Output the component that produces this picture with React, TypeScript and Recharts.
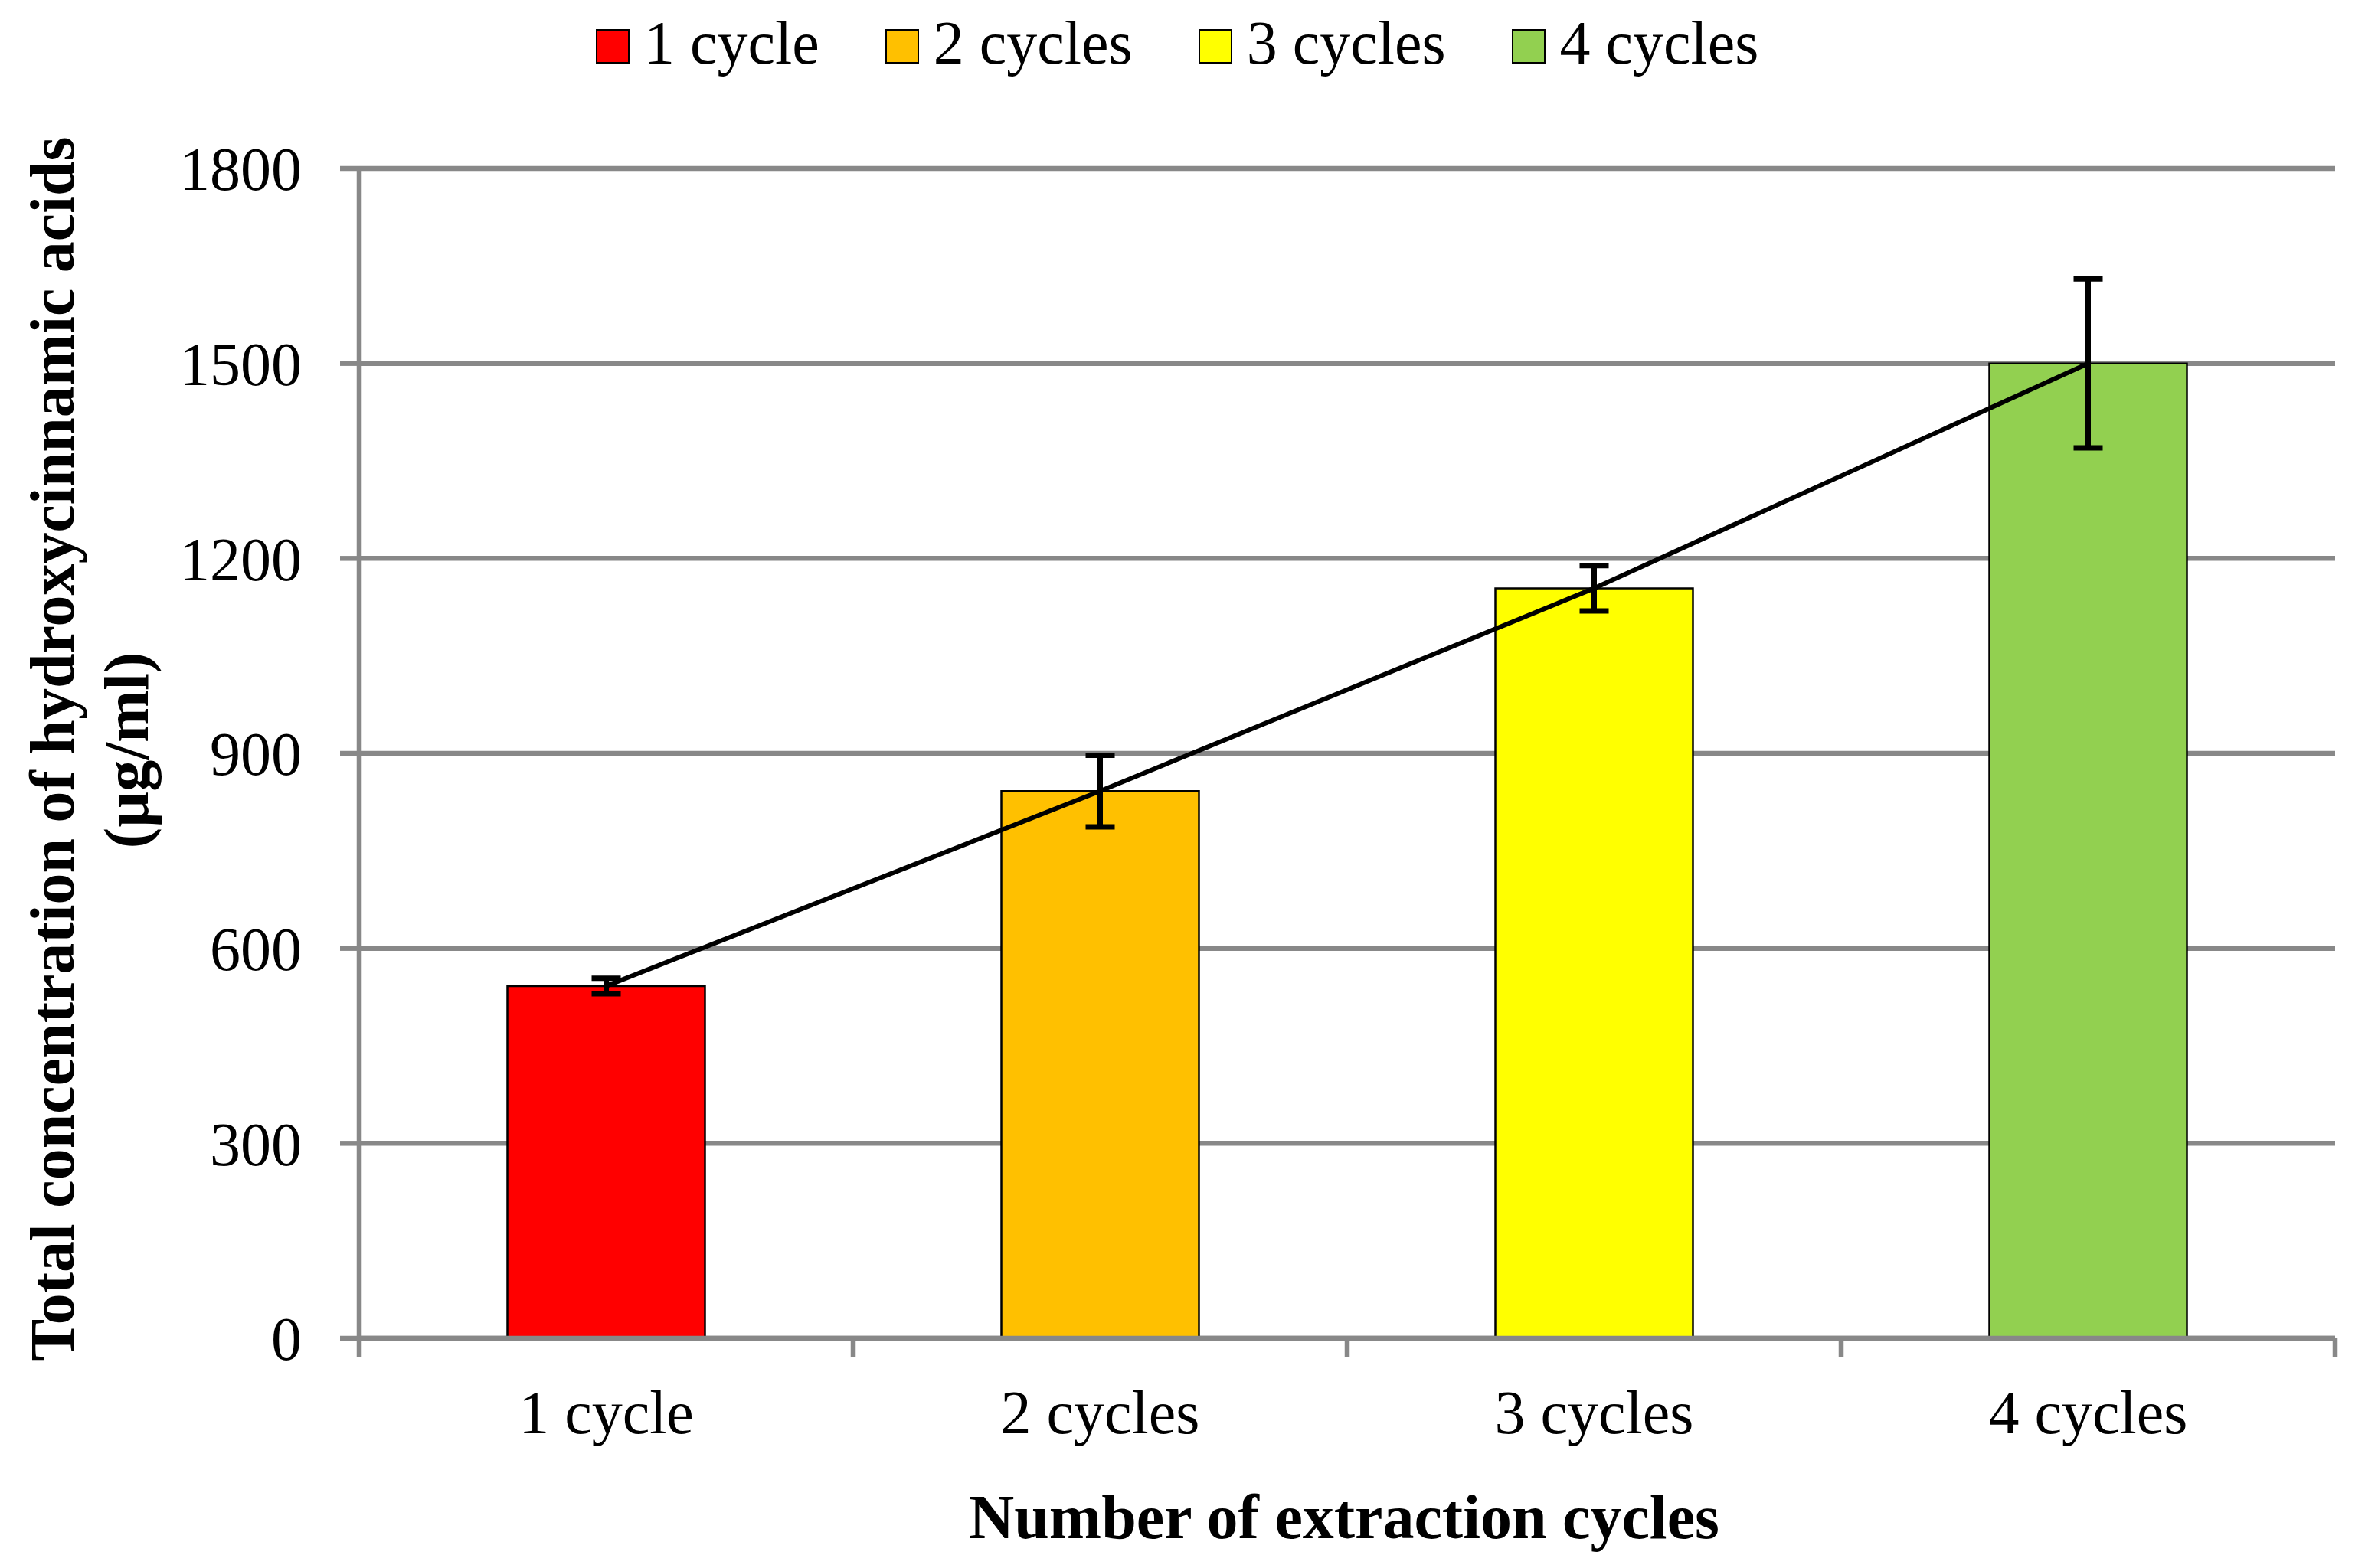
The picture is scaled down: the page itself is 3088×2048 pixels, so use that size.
import React from 'react';
import {
  ComposedChart,
  Bar,
  Cell,
  Line,
  ErrorBar,
  XAxis,
  YAxis,
  CartesianGrid,
} from 'recharts';

const categories = ['1 cycle', '2 cycles', '3 cycles', '4 cycles'];
const concentration = [542, 842, 1154, 1500];
const sdError = [12, 55, 35, 130];
const barColors = ['#FF0000', '#FFC000', '#FFFF00', '#92D050'];
const yTicks = [0, 300, 600, 900, 1200, 1500, 1800];

const FONT = '"Liberation Serif", "Times New Roman", serif';
const GRID = '#888888';

const data = categories.map((name, i) => ({
  name,
  value: concentration[i],
  err: sdError[i],
}));

const W = 3088;
const H = 2048;

const TICK_SIZE = 25;
const TICK_MARGIN = 42;

const tickText = { fontSize: 80, fill: '#000', fontFamily: FONT };
const grayLine = { stroke: GRID, strokeWidth: 6.5 };

// category label plus Excel-style tick marks on the category boundaries
const CategoryTick = (props: any) => {
  const { x, y, payload, index, width, visibleTicksCount } = props;
  const half = width / visibleTicksCount / 2;
  const axisY = y - TICK_SIZE - TICK_MARGIN;
  const last = index === visibleTicksCount - 1;
  return (
    <g>
      <line x1={x - half} x2={x - half} y1={axisY} y2={axisY + TICK_SIZE} {...grayLine} />
      {last && <line x1={x + half} x2={x + half} y1={axisY} y2={axisY + TICK_SIZE} {...grayLine} />}
      <text x={x} y={y} dy="0.71em" textAnchor="middle" {...tickText}>
        {payload.value}
      </text>
    </g>
  );
};

const ChartLegend = () => (
  <div
    style={{
      position: 'absolute',
      left: 778,
      top: 16,
      fontFamily: FONT,
      fontSize: 80,
      lineHeight: '80px',
      whiteSpace: 'nowrap',
      color: '#000',
    }}
  >
    {categories.map((c, i) => (
      <span key={c} style={{ marginRight: i < categories.length - 1 ? 86 : 0 }}>
        <span
          style={{
            display: 'inline-block',
            width: 40,
            height: 41,
            border: '2.5px solid #000',
            background: barColors[i],
            marginRight: 19,
            verticalAlign: 'baseline',
          }}
        />
        {c}
      </span>
    ))}
  </div>
);

export default function App() {
  return (
    <div style={{ position: 'absolute', left: 0, top: 0, width: W, height: H, background: '#fff' }}>
      <ComposedChart
        width={W}
        height={H}
        data={data}
        margin={{ top: 220, right: 39, bottom: 299, left: 0 }}
        barCategoryGap="30%"
      >
        <CartesianGrid
          vertical={false}
          stroke={GRID}
          strokeWidth={6.5}
          horizontalValues={yTicks}
        />
        <XAxis
          dataKey="name"
          type="category"
          height={1}
          tickLine={false}
          axisLine={grayLine}
          tickSize={TICK_SIZE}
          tickMargin={TICK_MARGIN}
          tick={CategoryTick}
          interval={0}
        />
        <YAxis
          width={469}
          domain={[0, 1800]}
          ticks={yTicks}
          interval={0}
          tickSize={25}
          tickMargin={50}
          tickLine={grayLine}
          axisLine={grayLine}
          tick={tickText}
        />
        <Bar dataKey="value" stroke="#000" strokeWidth={2.5} isAnimationActive={false}>
          {data.map((d, i) => (
            <Cell key={d.name} fill={barColors[i]} />
          ))}
        </Bar>
        <Line
          dataKey="value"
          type="linear"
          stroke="#000"
          strokeWidth={6}
          dot={false}
          activeDot={false}
          isAnimationActive={false}
        >
          <ErrorBar dataKey="err" width={19} strokeWidth={7} stroke="#000" direction="y" isAnimationActive={false} />
        </Line>
      </ComposedChart>

      <ChartLegend />

      <svg
        width={W}
        height={H}
        style={{ position: 'absolute', left: 0, top: 0, pointerEvents: 'none' }}
      >
        <text
          x={1755}
          y={2009}
          textAnchor="middle"
          fontFamily={FONT}
          fontSize={82}
          fontWeight="bold"
          fill="#000"
        >
          Number of extraction cycles
        </text>
        <text
          transform="translate(96,978) rotate(-90)"
          textAnchor="middle"
          fontFamily={FONT}
          fontSize={82}
          fontWeight="bold"
          fill="#000"
        >
          Total concentration of hydroxycinnamic acids
        </text>
        <text
          transform="translate(193,980) rotate(-90)"
          textAnchor="middle"
          fontFamily={FONT}
          fontSize={82}
          fontWeight="bold"
          fill="#000"
        >
          (µg/ml)
        </text>
      </svg>
    </div>
  );
}
